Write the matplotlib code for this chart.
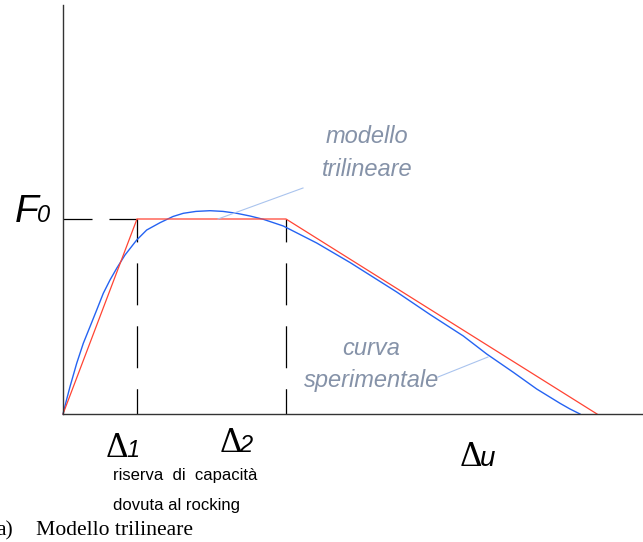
import matplotlib as mpl
mpl.use("Agg")
import matplotlib.pyplot as plt

mpl.rcParams.update({
    "font.family": "sans-serif",
    "font.sans-serif": ["Liberation Sans", "DejaVu Sans"],
    "lines.scale_dashes": False,
})

# characteristic points of the trilinear model (drawing units)
delta_1 = 74
delta_2 = 223
delta_u = 534
f_0 = 195

trilinear_x = [0, delta_1, delta_2, delta_u]
trilinear_y = [0, f_0, f_0, 0]

exp_x = [0, 3.5, 7, 13.7, 20.3, 27, 33.7, 40.3, 47, 53.7, 62, 73.7, 83.7, 97,
         110, 120.3, 133, 147, 160, 173.7, 187, 200.3, 220.3, 253.7, 287,
         333.7, 367, 400.3, 423.7, 450.3, 473.7, 497, 507, 517]
exp_y = [0, 14, 27.3, 50.7, 70.7, 87.3, 104, 120.7, 134, 145.7, 159, 174, 184,
         191.3, 197.5, 200.7, 202.6, 203.3, 202.6, 200.7, 198, 194.7, 188,
         171, 151.5, 122, 99.5, 78, 60, 41.7, 25, 10.7, 5, 0]

TEXT_GREY = "#8592a8"
LEADER = "#aac4ee"

fig = plt.figure(figsize=(6.43, 5.42), dpi=100)
ax = fig.add_axes([63 / 643, 128 / 542, 580 / 643, 409 / 542])
ax.set_xlim(0, 580)
ax.set_ylim(0, 409)
for s in ["top", "right"]:
    ax.spines[s].set_visible(False)
for s in ["left", "bottom"]:
    ax.spines[s].set_color("#333333")
    ax.spines[s].set_linewidth(1.0)
ax.set_xticks([])
ax.set_yticks([])

# dashed reference lines
ax.plot([0, delta_1], [f_0, f_0], color="black", lw=0.9,
        linestyle=(0, (20.9, 12.2)))
for d in [delta_1, delta_2]:
    ax.plot([d, d], [f_0, 0], color="black", lw=0.9,
            linestyle=(13.7, (30.2, 15.1)))

ax.plot(exp_x, exp_y, color="#2563f2", lw=1.0, clip_on=False)
ax.plot(trilinear_x, trilinear_y, color="#ff4433", lw=0.9, clip_on=False)

# leader lines
ax.plot([155, 240], [195, 226], color=LEADER, lw=0.8)
ax.plot([375, 425], [37, 57], color=LEADER, lw=0.8)

lab = dict(color=TEXT_GREY, fontsize=17, style="italic", ha="center", va="baseline")
ax.text(304, 271, "modello", **lab)
ax.text(304, 238, "trilineare", **lab)
ax.text(308, 59, "curva", **lab)
ax.text(309, 27, "sperimentale", **lab)

# F0 label
ax.text(-48, 192, "F", fontsize=28, style="italic", ha="left", va="baseline",
        clip_on=False)
ax.text(-26, 192, "0", fontsize=17, style="italic", ha="left", va="baseline",
        clip_on=False)

# delta labels
for dx, dy, sub, sx, ss in [(54, -43, "1", 70, 17), (168, -38, "2", 183, 17),
                            (408, -52, "u", 425, 20)]:
    ax.text(dx, dy, "\u0394", fontsize=25, family="Liberation Serif",
            ha="center", va="baseline", clip_on=False)
    ax.text(sx, dy, sub, fontsize=ss, style="italic", ha="center",
            va="baseline", clip_on=False)

note = dict(fontsize=12, ha="left", va="baseline", clip_on=False)
ax.text(50, -66, "riserva  di  capacità", **note)
ax.text(50, -96, "dovuta al rocking", **note)

ax.text(-50, -121, "a)", fontsize=15.6, family="Liberation Serif", ha="right",
        va="baseline", clip_on=False)
ax.text(-27, -121, "Modello trilineare", fontsize=15.6, family="Liberation Serif",
        ha="left", va="baseline", clip_on=False)

fig.savefig("out.png", dpi=100)
